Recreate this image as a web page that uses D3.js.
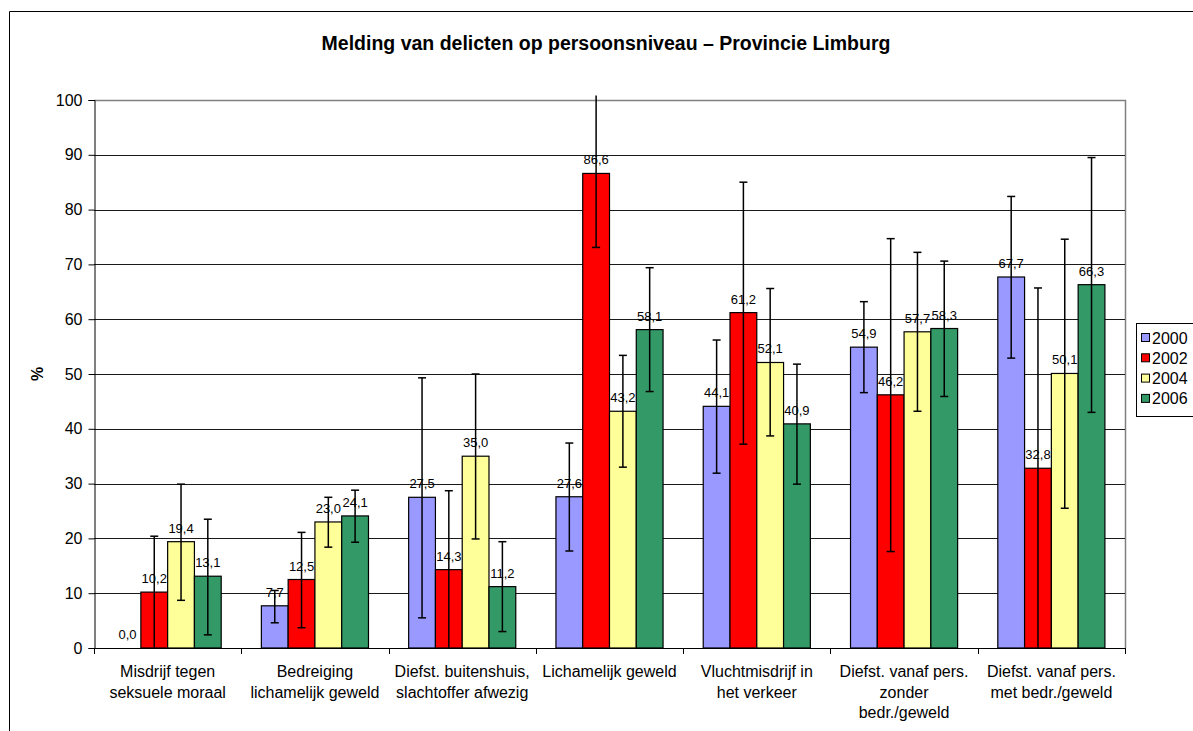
<!DOCTYPE html>
<html><head><meta charset="utf-8">
<script src="https://cdn.jsdelivr.net/npm/d3@7"></script>
<style>body{margin:0;background:#fff}svg{display:block}text{font-family:"Liberation Sans",Arial,sans-serif}</style>
</head><body><svg id="c" width="1193" height="731"></svg>
<script>
const categories = [
  ["Misdrijf tegen","seksuele moraal"],
  ["Bedreiging","lichamelijk geweld"],
  ["Diefst. buitenshuis,","slachtoffer afwezig"],
  ["Lichamelijk geweld"],
  ["Vluchtmisdrijf in","het verkeer"],
  ["Diefst. vanaf pers.","zonder","bedr./geweld"],
  ["Diefst. vanaf pers.","met bedr./geweld"]
];
const series = ["2000","2002","2004","2006"];
const colors = ["#9999FF","#FF0000","#FFFF99","#339966"];
const v2000 = [0.0, 7.7, 27.5, 27.6, 44.1, 54.9, 67.7];
const v2002 = [10.2, 12.5, 14.3, 86.6, 61.2, 46.2, 32.8];
const v2004 = [19.4, 23.0, 35.0, 43.2, 52.1, 57.7, 50.1];
const v2006 = [13.1, 24.1, 11.2, 58.1, 40.9, 58.3, 66.3];
const hi2000 = [null, 10.5, 49.3, 37.4, 56.2, 63.2, 82.4];
const lo2000 = [null, 4.6, 5.5, 17.7, 31.9, 46.6, 52.9];
const hi2002 = [20.4, 21.1, 28.7, 100.8, 85.0, 74.7, 65.7];
const lo2002 = [0, 3.7, 0, 73.1, 37.2, 17.6, 0];
const hi2004 = [29.9, 27.5, 50.0, 53.4, 65.6, 72.2, 74.6];
const lo2004 = [8.7, 18.4, 19.9, 33.0, 38.7, 43.2, 25.5];
const hi2006 = [23.5, 28.8, 19.4, 69.4, 51.8, 70.6, 89.5];
const lo2006 = [2.4, 19.3, 3.0, 46.8, 29.9, 45.9, 43.0];
const yTicks = [0,10,20,30,40,50,60,70,80,90,100];
const title = "Melding van delicten op persoonsniveau \u2013 Provincie Limburg";
const yLabel = "%";

const vals = [v2000, v2002, v2004, v2006];
const his = [hi2000, hi2002, hi2004, hi2006];
const los = [lo2000, lo2002, lo2004, lo2006];

const svg = d3.select("#c");
const L = 94, R = 1125, T = 100, B = 648;

// outer frame
svg.append("path").attr("d", `M9.5,731 V11.5 H1193`).attr("fill","none").attr("stroke","#000").attr("stroke-width",1);

svg.append("text").attr("x",606).attr("y",50).attr("text-anchor","middle")
  .attr("font-size",19.5).attr("font-weight","bold").text(title);

const y = d3.scaleLinear().domain([0,100]).range([B,T]);
const x0 = d3.scaleBand().domain(d3.range(categories.length)).range([L,R]).padding(0);
const bw = x0.bandwidth()/5.5;
const x1 = d3.scaleBand().domain(series).range([0.75*bw, 4.75*bw]).padding(0);

// plot border top/right
svg.append("path").attr("d",`M${L},${T+0.5} H${R+0.5} V${B}`).attr("fill","none").attr("stroke","#808080").attr("stroke-width",1.5);

// gridlines
svg.append("g").selectAll("line").data(yTicks.filter(t=>t>0&&t<100)).join("line")
  .attr("x1",L).attr("x2",R).attr("y1",d=>Math.round(y(d))+0.5).attr("y2",d=>Math.round(y(d))+0.5)
  .attr("stroke","#1a1a1a").attr("stroke-width",1);

// y axis
const ya = svg.append("g").attr("transform",`translate(${L+0.5},0)`)
  .call(d3.axisLeft(y).tickValues(yTicks).tickSize(6).tickPadding(6).tickFormat(d3.format("d")));
ya.select(".domain").attr("stroke","#000");
ya.selectAll("line").attr("stroke","#000");
ya.selectAll("text").attr("font-size",16).attr("font-family","Liberation Sans, Arial, sans-serif").attr("fill","#000");

svg.append("text").attr("transform","translate(43,374) rotate(-90)").attr("text-anchor","middle")
  .attr("font-size",16).attr("font-weight","bold").text(yLabel);

// bars
const groups = svg.append("g").selectAll("g").data(categories.map((c,i)=>i)).join("g")
  .attr("transform",i=>`translate(${x0(i)},0)`);
series.forEach((s,si)=>{
  groups.append("rect")
    .attr("x",i=>x1(s)).attr("width",x1.bandwidth())
    .attr("y",i=>y(vals[si][i])).attr("height",i=>B-y(vals[si][i]))
    .attr("fill",colors[si]).attr("stroke","#000").attr("stroke-width",1.2);
});
// error bars
series.forEach((s,si)=>{
  groups.each(function(i){
    const h = his[si][i], l = los[si][i];
    if(h==null) return;
    const g = d3.select(this);
    const cx = x1(s)+x1.bandwidth()/2;
    const yh = y(Math.min(h,100.8)), yl = y(Math.max(l,0));
    g.append("line").attr("x1",cx).attr("x2",cx).attr("y1",yh).attr("y2",yl).attr("stroke","#000").attr("stroke-width",1.5);
    if(h<=100) g.append("line").attr("x1",cx-4).attr("x2",cx+4).attr("y1",yh).attr("y2",yh).attr("stroke","#000").attr("stroke-width",1.5);
    if(l>0) g.append("line").attr("x1",cx-4).attr("x2",cx+4).attr("y1",yl).attr("y2",yl).attr("stroke","#000").attr("stroke-width",1.5);
  });
});
// labels
series.forEach((s,si)=>{
  groups.append("text").attr("x",i=>x1(s)+x1.bandwidth()/2).attr("y",i=>y(vals[si][i])-9)
    .attr("text-anchor","middle").attr("font-size",13).attr("fill","#000")
    .text(i=>d3.format(".1f")(vals[si][i]).replace(".",","));
});

// x axis
svg.append("line").attr("x1",L).attr("x2",R+1).attr("y1",B+0.5).attr("y2",B+0.5).attr("stroke","#000");
svg.append("g").selectAll("line").data(d3.range(categories.length+1)).join("line")
  .attr("x1",i=>Math.round(i<categories.length?x0(i):R)+0.5).attr("x2",i=>Math.round(i<categories.length?x0(i):R)+0.5)
  .attr("y1",B).attr("y2",B+6).attr("stroke","#000");
const cl = svg.append("g").selectAll("text").data(categories).join("text")
  .attr("x",(d,i)=>x0(i)+x0.bandwidth()/2).attr("y",677).attr("text-anchor","middle").attr("font-size",16);
cl.selectAll("tspan").data(d=>d).join("tspan").attr("x",function(){return this.parentNode.getAttribute("x");})
  .attr("dy",(d,j)=>j===0?0:20.5).text(d=>d);

// legend
svg.append("rect").attr("x",1136.5).attr("y",323.5).attr("width",70).attr("height",93).attr("fill","#fff").attr("stroke","#000");
series.forEach((s,si)=>{
  const yy = 338 + si*20.3;
  svg.append("rect").attr("x",1141.5).attr("y",yy-4.5).attr("width",8).attr("height",8).attr("fill",colors[si]).attr("stroke","#000");
  svg.append("text").attr("x",1152).attr("y",yy+5.5).attr("font-size",16).text(s);
});
</script></body></html>
